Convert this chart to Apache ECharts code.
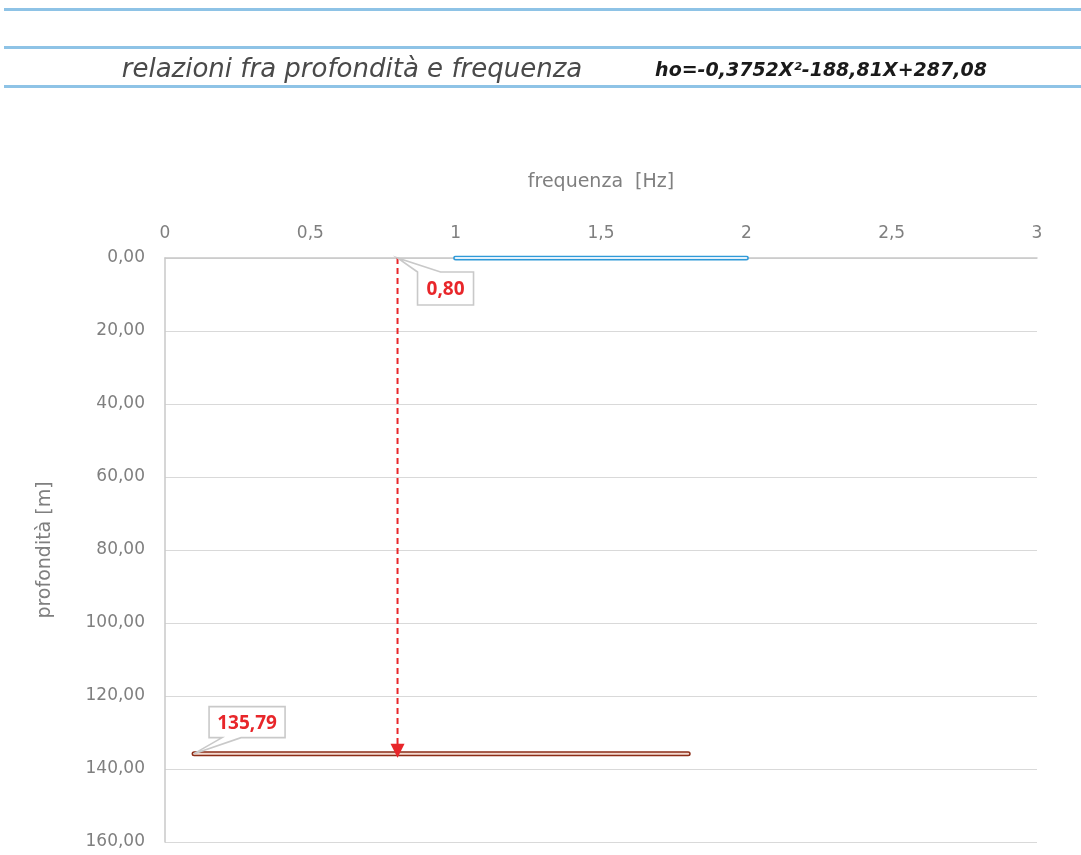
<!DOCTYPE html>
<html><head><meta charset="utf-8">
<script src="https://cdn.jsdelivr.net/npm/echarts@6/dist/echarts.min.js"></script>
<style>html,body{margin:0;padding:0;background:#fff}#c{width:1081px;height:855px}</style>
</head><body><div id="c"></div>
<script>
const titleText = 'relazioni fra profondità e frequenza';
const equationText = 'ho=-0,3752X²-188,81X+287,08';
const xAxisName = 'frequenza  [Hz]';
const yAxisName = 'profondità [m]';
const blueLine = [[1, 0], [2, 0]];
const brownLine = [[0.1, 135.79], [1.8, 135.79]];
const arrowFreq = 0.80;
const arrowDepth = 135.79;
const xTicks = {min: 0, max: 3, interval: 0.5};
const yTicks = {min: 0, max: 160, interval: 20};

const FONT = "'DejaVu Sans', sans-serif";
const chart = echarts.init(document.getElementById('c'), null, {renderer: 'canvas'});
const fmtComma = (v, d) => (d === undefined ? String(v) : v.toFixed(d)).replace('.', ',');

function doubleLine(name, data, outer, inner) {
  return [
    {type: 'line', name: name, data: data, symbol: 'none', silent: true,
     lineStyle: {color: outer, width: 5, cap: 'round'}, z: 3},
    {type: 'line', name: name + '_in', data: data, symbol: 'none', silent: true,
     lineStyle: {color: inner, width: 2, cap: 'round'}, z: 4}
  ];
}

// callout geometry (styling only): box offset from tip, size, wedge base span
const calloutStyles = [
  {dx: 20, dy: 14, w: 56, h: 33, wedge: 'top', b0: 0, b1: 23},
  {dx: 15, dy: -47, w: 76, h: 31, wedge: 'bottom', b0: 13, b1: 32}
];
const calloutData = [
  [arrowFreq, 0, fmtComma(arrowFreq, 2)],
  [brownLine[0][0], arrowDepth, fmtComma(arrowDepth, 2)]
];

function renderCallout(params, api) {
  const p = api.coord([api.value(0), api.value(1)]);
  const s = calloutStyles[params.dataIndex];
  const L = p[0] + s.dx, T = p[1] + s.dy, R = L + s.w, B = T + s.h;
  let pts;
  if (s.wedge === 'top') {
    pts = [[L, T], [p[0], p[1]], [L + s.b1, T], [R, T], [R, B], [L, B]];
  } else {
    pts = [[L, T], [R, T], [R, B], [L + s.b1, B], [p[0], p[1]], [L + s.b0, B], [L, B]];
  }
  return {type: 'group', children: [
    {type: 'polygon', shape: {points: pts}, style: {fill: '#fff', stroke: '#c9c9c9', lineWidth: 1.6}},
    {type: 'text', x: (L + R) / 2, y: (T + B) / 2 + 1, style: {
      text: calloutData[params.dataIndex][2], fill: '#e8262a',
      font: "bold 19px 'Open Sans', sans-serif", align: 'center', verticalAlign: 'middle'}}
  ]};
}

chart.setOption({
  animation: false,
  grid: {left: 165, right: 44, top: 258, bottom: 13},
  graphic: [
    {type: 'rect', shape: {x: 4, y: 8, width: 1077, height: 3}, style: {fill: '#8ec3e6'}},
    {type: 'rect', shape: {x: 4, y: 46, width: 1077, height: 3}, style: {fill: '#8ec3e6'}},
    {type: 'rect', shape: {x: 4, y: 85, width: 1077, height: 3}, style: {fill: '#8ec3e6'}},
    {type: 'text', x: 352, y: 70, style: {text: titleText, fill: '#4a4a4a', font: "italic 26px " + FONT, align: 'center', verticalAlign: 'middle'}},
    {type: 'text', x: 821, y: 71, style: {text: equationText, fill: '#1a1a1a', font: "italic bold 19px " + FONT, align: 'center', verticalAlign: 'middle'}}
  ],
  xAxis: {
    type: 'value', position: 'top', min: xTicks.min, max: xTicks.max, interval: xTicks.interval,
    name: xAxisName, nameLocation: 'middle', nameGap: 66,
    nameTextStyle: {color: '#7f7f7f', fontSize: 19, fontFamily: FONT},
    axisLine: {show: true, onZero: false, lineStyle: {color: '#c8c8c8', width: 1.5}},
    axisTick: {show: false}, splitLine: {show: false},
    axisLabel: {color: '#7f7f7f', fontSize: 17, fontFamily: FONT, margin: 16, formatter: v => fmtComma(v)}
  },
  yAxis: {
    type: 'value', inverse: true, min: yTicks.min, max: yTicks.max, interval: yTicks.interval,
    name: yAxisName, nameLocation: 'middle', nameGap: 110,
    nameTextStyle: {color: '#7f7f7f', fontSize: 19, fontFamily: FONT},
    axisLine: {show: true, onZero: false, lineStyle: {color: '#c8c8c8', width: 1.5}},
    axisTick: {show: false},
    splitLine: {show: true, lineStyle: {color: '#d9d9d9', width: 1.2}},
    axisLabel: {color: '#7f7f7f', fontSize: 17, fontFamily: FONT, margin: 20, padding: [5, 0, 0, 0], formatter: v => fmtComma(v, 2)}
  },
  series: [
    ...doubleLine('blue', blueLine, '#2f9ad8', '#e3f1fb'),
    ...doubleLine('brown', brownLine, '#8c2d17', '#f4d9cf'),
    {type: 'line', name: 'arrow', data: [[arrowFreq, 0], [arrowFreq, arrowDepth]], symbol: 'none', silent: true,
     lineStyle: {color: '#e8262a', width: 2, type: [6, 4]}, z: 5,
     markLine: {silent: true, symbol: ['none', 'triangle'], symbolSize: [14, 14], animation: false,
       lineStyle: {color: '#e8262a', width: 0.01, type: 'solid'}, label: {show: false},
       data: [[{coord: [arrowFreq, arrowDepth - 8]}, {coord: [arrowFreq, arrowDepth - 0.8]}]]}},
    {type: 'custom', name: 'callouts', data: calloutData.map(d => [d[0], d[1]]), z: 6, silent: true,
     clip: false, renderItem: renderCallout}
  ]
});
</script></body></html>
